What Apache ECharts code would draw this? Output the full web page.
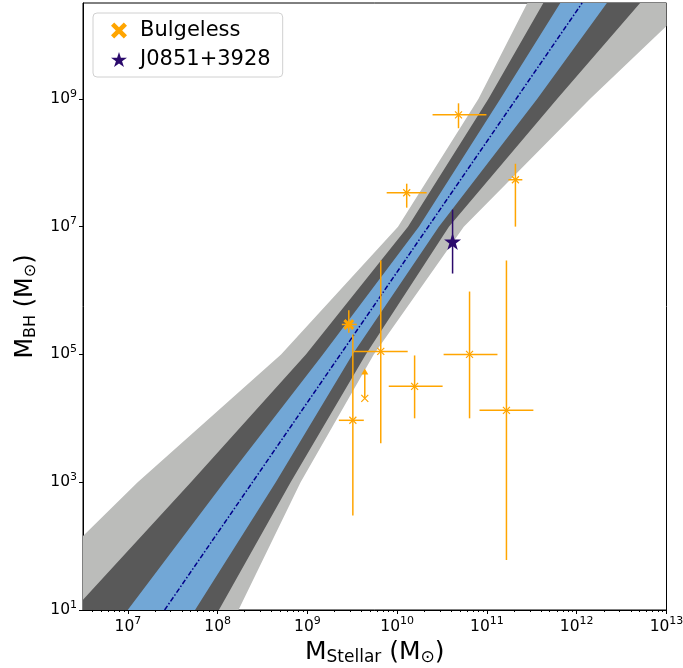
<!DOCTYPE html>
<html>
<head>
<meta charset="utf-8">
<script src="https://cdn.jsdelivr.net/npm/echarts@6/dist/echarts.min.js"></script>
<style>html,body{margin:0;padding:0;background:#fff}#main{width:683px;height:668px}</style>
</head>
<body>
<div id="main"></div>
<script>
// all values are log10 of mass in solar masses
var xRange = [6.5, 13];
var yRange = [1, 10.5];
var xTicks = [7, 8, 9, 10, 11, 12, 13];
var yTicks = [1, 3, 5, 7, 9];

// bulgeless galaxies: [logMstar, logMBH, xlo, xhi, ylo, yhi]
var bulgeless = [
  [10.683, 8.75, 10.394, 10.994, 8.54, 8.93],
  [10.106, 7.53, 9.883, 10.328, 7.297, 7.672],
  [11.317, 7.734, 11.239, 11.394, 7.0, 7.984],
  [9.506, 3.969, 9.35, 9.628, 2.48, 5.31],
  [9.817, 5.047, 9.517, 10.117, 3.609, 6.469],
  [10.194, 4.5, 9.906, 10.506, 4.0, 4.984],
  [10.806, 5.0, 10.517, 11.117, 4.0, 5.984],
  [11.217, 4.125, 10.917, 11.517, 1.781, 6.469]
];
// the one drawn with the big X marker
var bulgelessMain = [[9.461, 5.469, 9.383, 9.55, 5.34, 5.69]];
// lower limit: [logMstar, logMBH, arrow top]
var lowerLimit = [[9.639, 4.313, 4.75]];
// J0851+3928: [logMstar, logMBH, ylo, yhi]
var j0851 = [[10.617, 6.766, 6.266, 7.266]];

// relation: centre line end points
var relation = [[7.409, 1.0], [12.06, 10.5]];
// scatter bands, polygon outlines
var bandLight = [[6.5,2.16],[7.109,3],[8.706,5],[10.009,7],[10.906,9],[11.45,10.5],[13,10.5],[13,10.14],[12.15,9],[10.742,7],[9.739,5],[8.924,3],[8.232,1],[6.5,1]];
var bandDark = [[6.5,1.16],[7.702,3],[8.983,5],[10.12,7],[11.017,9],[11.628,10.5],[12.706,10.5],[11.783,9],[10.576,7],[9.65,5],[8.813,3],[8.014,1],[6.5,1]];
var bandBlue = [[6.998,1],[8.072,3],[9.172,5],[10.242,7],[11.15,9],[11.817,10.5],[12.336,10.5],[11.561,9],[10.464,7],[9.502,5],[8.647,3],[7.748,1]];

var bands = [bandLight, bandDark, bandBlue];
var bandColors = ['#bbbcba', '#595959', '#72a7d6'];

var orange = '#ffa500';
var indigo = '#2b0a6c';
var font = 'DejaVu Sans';

var minorTicks = [];
for (var n = 6; n <= 12; n++) {
  for (var k = 2; k <= 9; k++) {
    var v = n + Math.log10(k);
    if (v > xRange[0] && v < xRange[1]) minorTicks.push(v);
  }
}

var starPath = 'path://M0,-1 L0.2245,-0.309 L0.951,-0.309 L0.363,0.118 L0.588,0.809 L0,0.382 L-0.588,0.809 L-0.363,0.118 L-0.951,-0.309 L-0.2245,-0.309 Z';
var bigXPath = 'path://M-1,-0.6 L-0.6,-1 L0,-0.4 L0.6,-1 L1,-0.6 L0.4,0 L1,0.6 L0.6,1 L0,0.4 L-0.6,1 L-1,0.6 L-0.4,0 Z';
var thinXPath = 'path://M0,0 L10,10 M10,0 L0,10';

function tickLabel(v) { return '{b|10}{s|' + v + '}'; }
var tickRich = {
  b: { fontSize: 15.5, fontFamily: font, color: '#000' },
  s: { fontSize: 11, fontFamily: font, color: '#000', padding: [0, 0, 10, 0] }
};

function errRender(params, api) {
  var c = api.coord([api.value(0), api.value(1)]);
  var xl = api.coord([api.value(2), api.value(1)]);
  var xh = api.coord([api.value(3), api.value(1)]);
  var yl = api.coord([api.value(0), api.value(4)]);
  var yh = api.coord([api.value(0), api.value(5)]);
  var st = { stroke: orange, lineWidth: 1.5 };
  return { type: 'group', children: [
    { type: 'line', shape: { x1: xl[0], y1: c[1], x2: xh[0], y2: c[1] }, style: st },
    { type: 'line', shape: { x1: c[0], y1: yl[1], x2: c[0], y2: yh[1] }, style: st }
  ] };
}

var myChart = echarts.init(document.getElementById('main'));
var option = {
  animation: false,
  grid: { left: 83, right: 16.5, top: 3, bottom: 58, show: true, borderColor: '#000', borderWidth: 1, outerBoundsMode: 'none' },
  legend: {
    left: 93, top: 13, orient: 'vertical',
    padding: [7, 12, 7, 18], itemGap: 8, itemWidth: 16, itemHeight: 16,
    backgroundColor: 'rgba(255,255,255,0.8)', borderColor: '#d0d0d0', borderWidth: 1, borderRadius: 4,
    textStyle: { fontSize: 21, fontFamily: font, color: '#000', padding: [0, 0, 0, 8] },
    data: [
      { name: 'Bulgeless', icon: bigXPath, itemStyle: { color: orange, opacity: 1 } },
      { name: 'J0851+3928', icon: starPath, itemStyle: { color: indigo, opacity: 1 } }
    ]
  },
  xAxis: [{
    type: 'value', min: xRange[0], max: xRange[1],
    name: 'M{s|Stellar} (M{s|⊙})', nameLocation: 'middle', nameGap: 29,
    nameTextStyle: { fontSize: 25, fontFamily: font, color: '#000',
      rich: { s: { fontSize: 17, fontFamily: font, color: '#000', padding: [10, 0, 0, 0] } } },
    splitLine: { show: false },
    axisLine: { show: true, lineStyle: { color: '#000' } },
    axisTick: { show: true, length: 4, lineStyle: { color: '#000' }, customValues: xTicks },
    axisLabel: { customValues: xTicks, formatter: tickLabel, rich: tickRich, margin: 6 }
  }, {
    type: 'value', min: xRange[0], max: xRange[1], position: 'bottom',
    splitLine: { show: false }, axisLine: { show: false },
    axisTick: { show: true, length: 2, lineStyle: { color: '#000' }, customValues: minorTicks },
    axisLabel: { show: false }
  }],
  yAxis: {
    type: 'value', min: yRange[0], max: yRange[1],
    name: 'M{s|BH} (M{s|⊙})', nameLocation: 'middle', nameGap: 44, nameRotate: 90,
    nameTextStyle: { fontSize: 24, fontFamily: font, color: '#000',
      rich: { s: { fontSize: 16, fontFamily: font, color: '#000', padding: [10, 0, 0, 0] } } },
    splitLine: { show: false },
    axisLine: { show: true, lineStyle: { color: '#000' } },
    axisTick: { show: true, length: 4, lineStyle: { color: '#000' }, customValues: yTicks },
    axisLabel: { customValues: yTicks, formatter: tickLabel, rich: tickRich, margin: 6 }
  },
  series: [
    {
      type: 'custom', name: 'bands', silent: true, clip: true, z: 1,
      data: bands.map(function (b, i) { return [b[0][0], b[0][1], i]; }),
      renderItem: function (params, api) {
        var i = api.value(2);
        var pts = bands[i].map(function (p) { return api.coord(p); });
        return { type: 'polygon', shape: { points: pts }, style: { fill: bandColors[i] } };
      }
    },
    {
      type: 'line', name: 'relation', data: relation, showSymbol: false, silent: true, z: 2, clip: true,
      lineStyle: { color: '#00008b', width: 1.5, type: [5, 2, 1.5, 2] }
    },
    {
      type: 'custom', name: 'errors', silent: true, z: 3,
      data: bulgeless.concat(bulgelessMain),
      renderItem: errRender
    },
    {
      type: 'custom', name: 'limit', silent: true, z: 3,
      data: lowerLimit,
      renderItem: function (params, api) {
        var c = api.coord([api.value(0), api.value(1)]);
        var t = api.coord([api.value(0), api.value(2)]);
        return { type: 'group', children: [
          { type: 'line', shape: { x1: c[0], y1: c[1], x2: t[0], y2: t[1] }, style: { stroke: orange, lineWidth: 1.5 } },
          { type: 'polygon', shape: { points: [[t[0], t[1] - 2], [t[0] - 3.5, t[1] + 4], [t[0] + 3.5, t[1] + 4]] }, style: { fill: orange } }
        ] };
      }
    },
    {
      type: 'custom', name: 'j0851 err', silent: true, z: 3,
      data: j0851,
      renderItem: function (params, api) {
        var yl = api.coord([api.value(0), api.value(2)]);
        var yh = api.coord([api.value(0), api.value(3)]);
        return { type: 'line', shape: { x1: yl[0], y1: yl[1], x2: yh[0], y2: yh[1] }, style: { stroke: indigo, lineWidth: 1.5 } };
      }
    },
    {
      type: 'scatter', name: 'bulgeless x', z: 4, silent: true,
      data: bulgeless.concat(lowerLimit).map(function (d) { return [d[0], d[1]]; }),
      symbol: thinXPath, symbolSize: 7,
      itemStyle: { color: 'none', borderColor: orange, borderWidth: 1.2, opacity: 1 }
    },
    {
      type: 'scatter', name: 'Bulgeless', z: 4,
      data: bulgelessMain.map(function (d) { return [d[0], d[1]]; }),
      symbol: bigXPath, symbolSize: 11, itemStyle: { color: orange, opacity: 1 }
    },
    {
      type: 'scatter', name: 'J0851+3928', z: 5,
      data: j0851.map(function (d) { return [d[0], d[1]]; }),
      symbol: starPath, symbolSize: 17, itemStyle: { color: indigo, opacity: 1 }
    }
  ]
};
myChart.setOption(option);
</script>
</body>
</html>
